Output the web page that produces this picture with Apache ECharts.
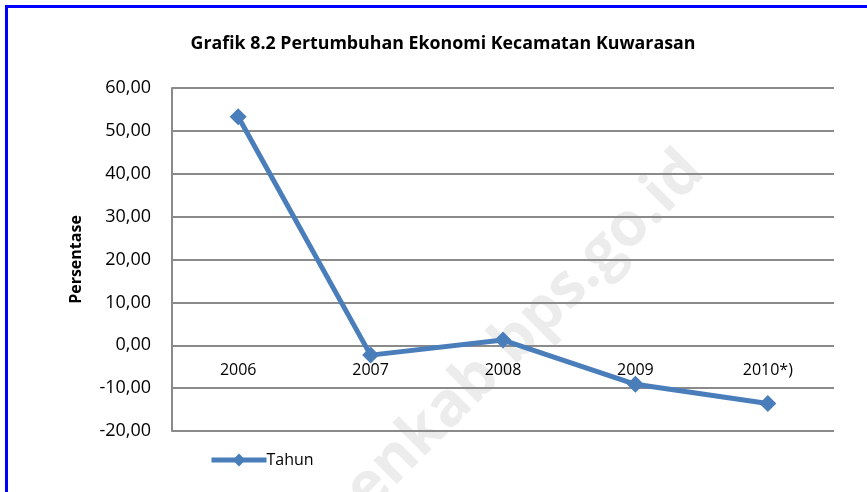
<!DOCTYPE html>
<html>
<head>
<meta charset="utf-8">
<script src="https://cdn.jsdelivr.net/npm/echarts@6/dist/echarts.min.js"></script>
<style>
  html, body { margin: 0; padding: 0; background: #fff; }
  #chart { width: 867px; height: 492px; }
</style>
</head>
<body>
<div id="chart"></div>
<script>
// data
const years = ['2006', '2007', '2008', '2009', '2010*)'];
const growth = [53.3, -2.3, 1.2, -9.1, -13.6];
const yTicks = { min: -20, max: 60, interval: 10 };

const seriesName = 'Tahun';
const titleText = 'Grafik 8.2 Pertumbuhan Ekonomi Kecamatan Kuwarasan';
const watermark = 'kebumenkab.bps.go.id';

const lineBlue = '#4a7ebb';
const gridGray = '#8a8a8a';
const font = '"Open Sans", sans-serif';

const chart = echarts.init(document.getElementById('chart'));

chart.setOption({
  backgroundColor: '#fff',
  animation: false,
  title: {
    text: titleText,
    left: 438,
    top: 30,
    textAlign: 'center',
    textStyle: { fontFamily: font, fontSize: 17.8, fontWeight: 'bold', color: '#000' }
  },
  graphic: [
    // watermark behind the plot
    {
      type: 'text',
      z: -10,
      x: 694,
      y: 162,
      rotation: Math.PI / 4,
      style: {
        text: watermark,
        fill: '#ececec',
        font: 'bold 61px "Open Sans", sans-serif',
        align: 'right',
        verticalAlign: 'middle'
      }
    },
    // blue frame, top and left edges
    { type: 'rect', shape: { x: 5, y: 5, width: 862, height: 3 }, style: { fill: '#0000ff' } },
    { type: 'rect', shape: { x: 5, y: 5, width: 3, height: 487 }, style: { fill: '#0000ff' } }
  ],
  legend: {
    data: [seriesName],
    left: 204,
    top: 447,
    itemWidth: 55,
    itemHeight: 16,
    lineStyle: { width: 5 },
    textStyle: { fontFamily: font, fontSize: 16, color: '#000', padding: [0, 0, 0, -5] }
  },
  grid: { left: 172, right: 33, top: 88, bottom: 61 },
  xAxis: {
    type: 'category',
    data: years,
    boundaryGap: true,
    offset: -86,
    axisLine: { show: false, onZero: false },
    axisTick: { show: false },
    axisLabel: { color: '#000', fontFamily: font, fontSize: 16, margin: 17 },
    splitLine: { show: false }
  },
  yAxis: {
    type: 'value',
    min: yTicks.min,
    max: yTicks.max,
    interval: yTicks.interval,
    name: 'Persentase',
    nameLocation: 'middle',
    nameGap: 88,
    nameTextStyle: { fontFamily: font, fontSize: 16, fontWeight: 'bold', color: '#000' },
    axisLine: { show: true, lineStyle: { color: gridGray, width: 2 } },
    axisTick: { show: false },
    axisLabel: {
      color: '#000',
      fontFamily: font,
      fontSize: 18,
      margin: 21,
      formatter: v => v.toFixed(2).replace('.', ',')
    },
    splitLine: { lineStyle: { color: gridGray, width: 2 } }
  },
  series: [{
    name: seriesName,
    type: 'line',
    data: growth,
    symbol: 'diamond',
    symbolSize: 17,
    lineStyle: { color: lineBlue, width: 5 },
    itemStyle: { color: lineBlue }
  }]
});
</script>
</body>
</html>
